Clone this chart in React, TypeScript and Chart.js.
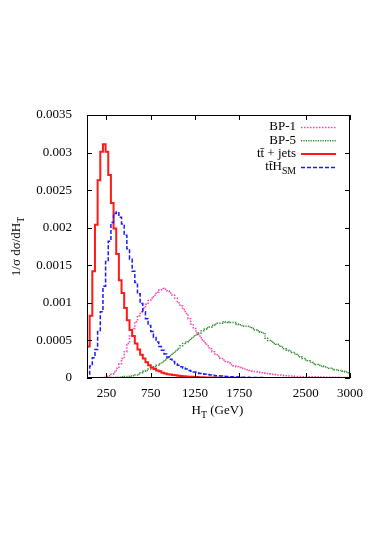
import React, { useEffect, useRef } from 'react';
import { Chart, registerables } from 'chart.js';

Chart.register(...registerables);

// Histogram binning (GeV)
const binStart = 30;
const binWidth = 30;
const xMin = 30;
const xMax = 3000;

const xTicks = [250, 750, 1250, 1750, 2500, 3000];
const yTicks = [0, 0.0005, 0.001, 0.0015, 0.002, 0.0025, 0.003, 0.0035];

// BP-1 (pink dotted)
const bp1 = [
  0, 0, 0, 0, 0.000003, 0.000005, 0.00001, 0.00002, 0.00003, 0.00005,
  0.00008, 0.00013, 0.00019, 0.00026, 0.00035, 0.00046, 0.00056, 0.00066, 0.00075, 0.00083,
  0.00088, 0.00093, 0.00098, 0.00103, 0.00106, 0.0011, 0.00114, 0.00117, 0.00119, 0.00118,
  0.00116, 0.00113, 0.0011, 0.00106, 0.001, 0.00096, 0.00091, 0.00086, 0.00079, 0.00072,
  0.00066, 0.0006, 0.00056, 0.00051, 0.00047, 0.00043, 0.00039, 0.00035, 0.00032, 0.00029,
  0.00026, 0.00024, 0.00022, 0.0002, 0.00018, 0.00016, 0.00015, 0.00014, 0.00013, 0.00012,
  0.00011, 0.0001, 0.00009, 0.000085, 0.00008, 0.00007, 0.000065, 0.00006, 0.000055, 0.00005,
  0.000045, 0.00004, 0.00004, 0.000035, 0.00003, 0.00003, 0.000025, 0.000025, 0.00002, 0.00002,
  0.00002, 0.000018, 0.000017, 0.000016, 0.000015, 0.000014, 0.000013, 0.000012, 0.000012, 0.000011,
  0.00001, 0.00001, 0.00001, 0.000009, 0.000009, 0.000008, 0.000008, 0.000008, 0.000007,
];

// BP-5 (green dotted)
const bp5 = [
  0, 0, 0, 0, 0, 0, 0.000003, 0.000005, 0.000005, 0.000006,
  0.000008, 0.00001, 0.00001, 0.000015, 0.00002, 0.00002, 0.000025, 0.00003, 0.00004, 0.00005,
  0.00007, 0.00009, 0.0001, 0.00012, 0.00014, 0.00015, 0.00017, 0.00019, 0.00021, 0.00024,
  0.00027, 0.0003, 0.00033, 0.00036, 0.00039, 0.00043, 0.00046, 0.00048, 0.0005, 0.00053,
  0.00056, 0.00058, 0.0006, 0.00063, 0.00065, 0.00067, 0.00068, 0.0007, 0.00072, 0.00073,
  0.00073, 0.00075, 0.00074, 0.00075, 0.00074, 0.00074, 0.00072, 0.00071, 0.0007, 0.00069,
  0.00069, 0.00068, 0.00066, 0.00064, 0.00063, 0.00061, 0.0006, 0.00053, 0.0005, 0.00049,
  0.00046, 0.00045, 0.00043, 0.00041, 0.00039, 0.00037, 0.00036, 0.00034, 0.00032, 0.0003,
  0.00028, 0.00026, 0.00024, 0.00023, 0.00021, 0.00019, 0.00018, 0.00017, 0.00016, 0.00015,
  0.00014, 0.00013, 0.00012, 0.00011, 0.0001, 0.0001, 0.00009, 0.00008, 0.00007,
];

// tt + jets (red solid)
const ttJets = [
  0.00042, 0.00083, 0.00142, 0.00204, 0.00263, 0.00301, 0.00311, 0.00301, 0.0027, 0.00233,
  0.00199, 0.00165, 0.0013, 0.00113, 0.00093, 0.00077, 0.00064, 0.00056, 0.00046, 0.00038,
  0.00031, 0.00026, 0.00021, 0.00017, 0.00014, 0.00012, 0.0001, 0.00009, 0.00007, 0.00006,
  0.00005, 0.000045, 0.00004, 0.000035, 0.00003, 0.000027, 0.000024, 0.000021, 0.000018, 0.000016,
  0.000014, 0.000012, 0.00001, 0.000009, 0.000008, 0.000007, 0.000006, 0.000005, 0.000005, 0.000004,
  0.000004, 0.000003, 0.000003, 0.000003, 0.000002, 0.000002, 0.000002, 0.000002, 0.000001, 0.000001,
  0.000001, 0.000001, 0.000001, 0.000001, 0.000001, 0.000001, 0.000001, 0.000001, 0.000001, 0.000001,
  0, 0, 0, 0, 0, 0, 0, 0, 0, 0,
  0, 0, 0, 0, 0, 0, 0, 0, 0, 0,
  0, 0, 0, 0, 0, 0, 0, 0, 0,
];

// ttH_SM (blue dashed)
const ttH = [
  0.00005, 0.00016, 0.00027, 0.00038, 0.00062, 0.00088, 0.00122, 0.00155, 0.00182, 0.00207,
  0.00219, 0.00221, 0.00214, 0.00205, 0.0019, 0.00172, 0.00158, 0.00142, 0.00127, 0.00112,
  0.00099, 0.00088, 0.00079, 0.0007, 0.00062, 0.00054, 0.00048, 0.00042, 0.00037, 0.00032,
  0.00028, 0.00025, 0.00022, 0.00019, 0.00017, 0.00015, 0.00013, 0.00012, 0.0001, 0.00009,
  0.00008, 0.00007, 0.00006, 0.000055, 0.00005, 0.000045, 0.00004, 0.000035, 0.00003, 0.00003,
  0.000025, 0.000022, 0.00002, 0.000018, 0.000016, 0.000014, 0.000013, 0.000012, 0.000011, 0.00001,
  0.000009, 0.000008, 0.000007, 0.000006, 0.000006, 0.000005, 0.000005, 0.000004, 0.000004, 0.000003,
  0.000003, 0.000003, 0.000002, 0.000002, 0.000002, 0.000002, 0.000001, 0.000001, 0.000001, 0.000001,
  0.000001, 0.000001, 0.000001, 0.000001, 0.000001, 0, 0, 0, 0, 0,
  0, 0, 0, 0, 0, 0, 0, 0, 0,
];

const FONT = "'Liberation Serif', 'DejaVu Serif', serif";

const legendItems = [
  { main: 'BP-1', sub: '', color: '#ff40b0', dash: [1.5, 1.5], width: 1.5 },
  { main: 'BP-5', sub: '', color: '#2e8b2e', dash: [1.2, 1.2], width: 1.5 },
  { main: 'tt\u0304 + jets', sub: '', color: '#ff1a1a', dash: [], width: 2 },
  { main: 'tt\u0304H', sub: 'SM', color: '#1a1aff', dash: [4, 2], width: 1.5 },
];

function toSteps(values: number[]) {
  const pts: { x: number; y: number }[] = [{ x: binStart, y: 0 }];
  values.forEach((v, i) => pts.push({ x: binStart + i * binWidth, y: v }));
  pts.push({ x: binStart + values.length * binWidth, y: values[values.length - 1] });
  return pts;
}

function drawSubText(ctx: CanvasRenderingContext2D, main: string, sub: string, x: number, y: number, size: number, align: 'left' | 'center' | 'right') {
  ctx.font = `${size}px ${FONT}`;
  const wm = ctx.measureText(main).width;
  ctx.font = `${size * 0.75}px ${FONT}`;
  const ws = sub ? ctx.measureText(sub).width : 0;
  const total = wm + ws;
  let sx = x;
  if (align === 'center') sx = x - total / 2;
  if (align === 'right') sx = x - total;
  ctx.textAlign = 'left';
  ctx.textBaseline = 'middle';
  ctx.font = `${size}px ${FONT}`;
  ctx.fillText(main, sx, y);
  if (sub) {
    ctx.font = `${size * 0.75}px ${FONT}`;
    ctx.fillText(sub, sx + wm, y + size * 0.35);
  }
  return sx + total;
}

const overlayPlugin = {
  id: 'overlay',
  afterDraw(chart: any) {
    const { ctx, chartArea: a, scales } = chart;
    const xs = scales.x;
    const ys = scales.y;
    ctx.save();
    ctx.strokeStyle = '#000';
    ctx.lineWidth = 1;
    ctx.setLineDash([]);
    ctx.strokeRect(a.left + 0.5, a.top + 0.5, a.right - a.left - 1, a.bottom - a.top - 1);
    ctx.beginPath();
    xTicks.forEach((v) => {
      const px = Math.round(xs.getPixelForValue(v)) + 0.5;
      ctx.moveTo(px, a.bottom);
      ctx.lineTo(px, a.bottom - 5);
      ctx.moveTo(px, a.top);
      ctx.lineTo(px, a.top + 5);
    });
    yTicks.forEach((v) => {
      const py = Math.round(ys.getPixelForValue(v)) + 0.5;
      ctx.moveTo(a.left, py);
      ctx.lineTo(a.left + 5, py);
      ctx.moveTo(a.right, py);
      ctx.lineTo(a.right - 5, py);
    });
    ctx.stroke();

    ctx.fillStyle = '#000';
    // x title
    ctx.font = `13px ${FONT}`;
    const fullW = ctx.measureText('H (GeV)').width + 8;
    const endX = drawSubText(ctx, 'H', 'T', (a.left + a.right) / 2 - fullW / 2, a.bottom + 33, 13, 'left');
    ctx.font = `13px ${FONT}`;
    ctx.textBaseline = 'middle';
    ctx.fillText(' (GeV)', endX, a.bottom + 33);

    // y title
    ctx.save();
    ctx.translate(17, (a.top + a.bottom) / 2);
    ctx.rotate(-Math.PI / 2);
    drawSubText(ctx, '1/\u03c3 d\u03c3/dH', 'T', 0, 0, 13, 'center');
    ctx.restore();

    // legend
    const rx = a.right - 54;
    legendItems.forEach((it, i) => {
      const y = a.top + 12 + i * 13.3;
      ctx.fillStyle = '#000';
      drawSubText(ctx, it.main, it.sub, rx, y, 13, 'right');
      ctx.beginPath();
      ctx.strokeStyle = it.color;
      ctx.lineWidth = it.width;
      ctx.setLineDash(it.dash);
      ctx.moveTo(rx + 5, y + 0.5);
      ctx.lineTo(rx + 40, y + 0.5);
      ctx.stroke();
    });
    ctx.restore();
  },
};

export default function App() {
  const ref = useRef<HTMLCanvasElement>(null);
  useEffect(() => {
    if (!ref.current) return;
    const chart = new Chart(ref.current, {
      type: 'line',
      data: {
        datasets: [
          { label: 'BP-1', data: toSteps(bp1), borderColor: '#ff40b0', borderWidth: 1.5, borderDash: [1.5, 1.5], stepped: true, pointRadius: 0, fill: false, order: 4 },
          { label: 'BP-5', data: toSteps(bp5), borderColor: '#2e8b2e', borderWidth: 1.5, borderDash: [1.2, 1.2], stepped: true, pointRadius: 0, fill: false, order: 3 },
          { label: 'tt + jets', data: toSteps(ttJets), borderColor: '#ff1a1a', borderWidth: 2, stepped: true, pointRadius: 0, fill: false, order: 2 },
          { label: 'ttH_SM', data: toSteps(ttH), borderColor: '#1a1aff', borderWidth: 1.5, borderDash: [4, 2], stepped: true, pointRadius: 0, fill: false, order: 1 },
        ],
      },
      options: {
        animation: false,
        responsive: false,
        devicePixelRatio: 1,
        layout: { padding: { left: 0, right: 24, top: 115, bottom: 0 } },
        plugins: { legend: { display: false }, tooltip: { enabled: false } },
        scales: {
          x: {
            type: 'linear',
            min: xMin,
            max: xMax,
            grid: { display: false },
            border: { display: false },
            afterBuildTicks: (s: any) => { s.ticks = xTicks.map((v) => ({ value: v })); },
            afterFit: (s: any) => { s.height = 156; },
            ticks: {
              autoSkip: false,
              maxRotation: 0,
              padding: 0,
              color: '#000',
              font: { family: FONT, size: 13 },
              callback: (v: any) => String(v),
            },
          },
          y: {
            type: 'linear',
            min: 0,
            max: 0.0035,
            grid: { display: false },
            border: { display: false },
            afterBuildTicks: (s: any) => { s.ticks = yTicks.map((v) => ({ value: v })); },
            afterFit: (s: any) => { s.width = 87; },
            ticks: {
              padding: 7,
              color: '#000',
              font: { family: FONT, size: 13 },
              callback: (v: any) => String(Number(Number(v).toFixed(4))),
            },
          },
        },
      },
      plugins: [overlayPlugin],
    });
    return () => chart.destroy();
  }, []);
  return (
    <div style={{ position: 'absolute', left: 0, top: 0, width: 374, height: 534, background: '#fff' }}>
      <canvas ref={ref} width={374} height={534} style={{ display: 'block' }} />
    </div>
  );
}
